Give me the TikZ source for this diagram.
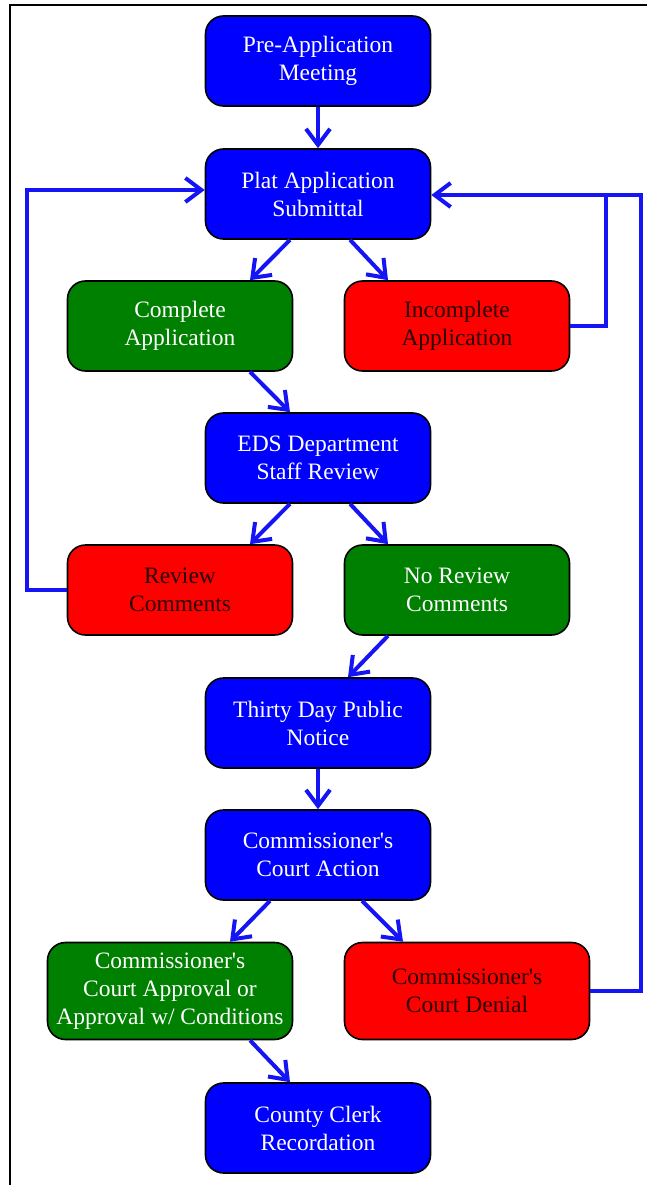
\documentclass[tikz,border=0pt]{standalone}
\usepackage{fontspec}
\setmainfont{Liberation Serif}[Ligatures=TeXOff]
\usetikzlibrary{arrows.meta}
\definecolor{boxblue}{RGB}{0,0,255}
\definecolor{boxgreen}{RGB}{0,128,0}
\definecolor{boxred}{RGB}{255,0,0}
\definecolor{linkblue}{RGB}{20,20,245}
\definecolor{darktext}{RGB}{40,0,0}
\tikzset{
  stepbox/.style={draw=black, line width=1.6pt, rounded corners=18pt,
    minimum width=225pt, minimum height=90pt, inner sep=0pt, align=center,
    font=\fontsize{23.5}{28}\selectfont},
  bluebox/.style={stepbox, fill=boxblue, text=white},
  greenbox/.style={stepbox, fill=boxgreen, text=white},
  redbox/.style={stepbox, fill=boxred, text=darktext},
  widebox/.style={minimum width=245pt, minimum height=97pt},
  link/.style={draw=linkblue, line width=4pt,
    -{Straight Barb[length=16pt,width=24pt]}},
  plainlink/.style={draw=linkblue, line width=4pt}
}
\begin{document}
\begin{tikzpicture}[x=1pt, y=-1pt]
\useasboundingbox (0,0) rectangle (647,1185);
% frame
\draw[line width=2pt] (10,1185) -- (10,5) -- (647,5);

% steps
\node[bluebox]  (pre)        at (318,61)   {Pre-Application\\Meeting};
\node[bluebox]  (plat)       at (318,194)  {Plat Application\\Submittal};
\node[greenbox] (complete)   at (180,326)  {Complete\\Application};
\node[redbox]   (incomplete) at (457,326)  {Incomplete\\Application};
\node[bluebox]  (eds)        at (318,458)  {EDS Department\\Staff Review};
\node[redbox]   (review)     at (180,590)  {Review\\Comments};
\node[greenbox] (noreview)   at (457,590)  {No Review\\Comments};
\node[bluebox]  (notice)     at (318,723)  {Thirty Day Public\\Notice};
\node[bluebox]  (action)     at (318,855)  {Commissioner's\\Court Action};
\node[greenbox, widebox] (approval) at (170,991) {Commissioner's\\Court Approval or\\Approval w/ Conditions};
\node[redbox, widebox]   (denial)   at (467,991) {Commissioner's\\Court Denial};
\node[bluebox]  (clerk)      at (318,1128) {County Clerk\\Recordation};

% main flow
\draw[link] (pre.south) -- (plat.north);
\draw[link] ([xshift=-28pt]plat.south) -- ([xshift=70pt]complete.north);
\draw[link] ([xshift=32pt]plat.south) -- ([xshift=-69pt]incomplete.north);
\draw[link] ([xshift=70pt]complete.south) -- ([xshift=-28pt]eds.north);
\draw[link] ([xshift=-28pt]eds.south) -- ([xshift=70pt]review.north);
\draw[link] ([xshift=32pt]eds.south) -- ([xshift=-69pt]noreview.north);
\draw[link] ([xshift=-69pt]noreview.south) -- ([xshift=30pt]notice.north);
\draw[link] (notice.south) -- (action.north);
\draw[link] ([xshift=-48pt]action.south) -- ([xshift=60pt]approval.north);
\draw[link] ([xshift=44pt]action.south) -- ([xshift=-64pt]denial.north);
\draw[link] ([xshift=80pt]approval.south) -- ([xshift=-28pt]clerk.north);

% return loops
\coordinate (leftturn)  at (27,190);
\coordinate (innerturn) at (606,195);
\coordinate (outerturn) at (641,195);
\draw[link] (review.west) -| (leftturn) -- (plat.west |- leftturn);
\draw[plainlink] (incomplete.east) -| (innerturn);
\draw[link] (denial.east) -| (outerturn) -- (plat.east |- outerturn);
\end{tikzpicture}
\end{document}
